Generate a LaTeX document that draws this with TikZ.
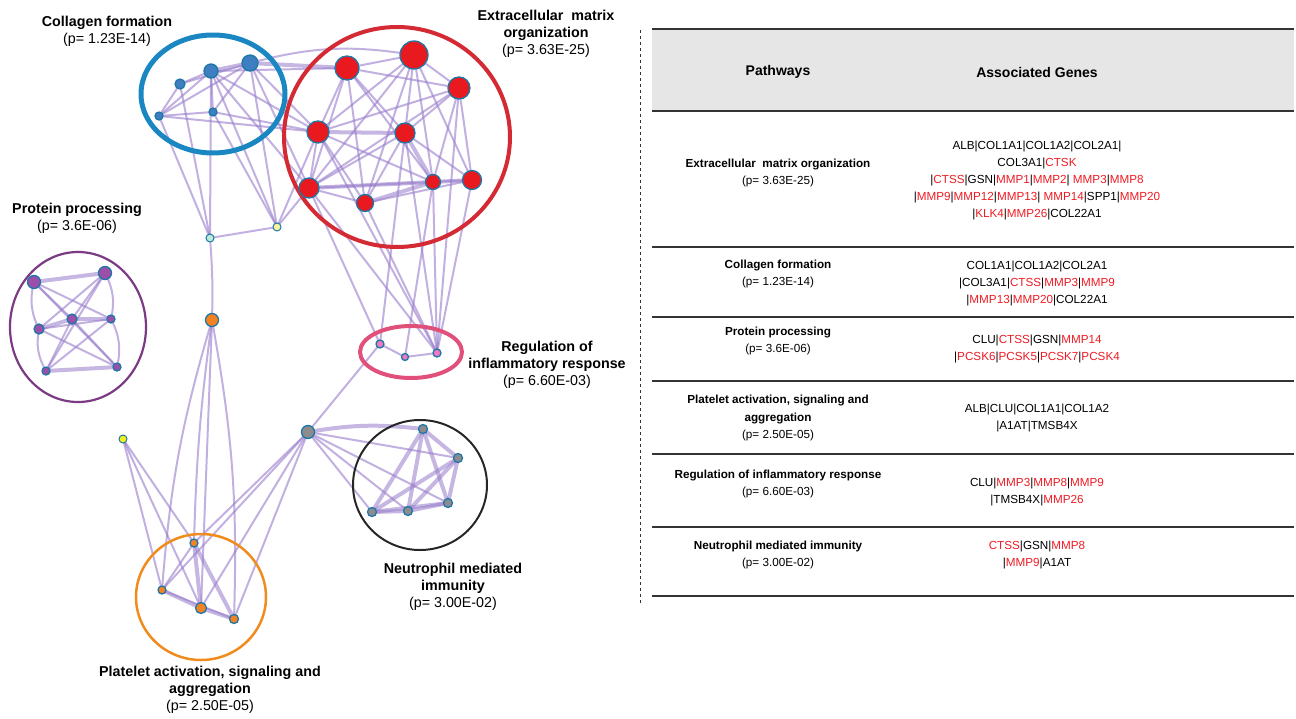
\documentclass[tikz,border=0pt]{standalone}
\usepackage{fontspec}
\setmainfont{Liberation Sans}
\usetikzlibrary{backgrounds}
\definecolor{edgec}{HTML}{977CCB}
\definecolor{nodeb}{HTML}{1F77A8}
\definecolor{colblue}{HTML}{1A87C2}
\definecolor{colnode}{HTML}{3D7FC1}
\definecolor{ecmring}{HTML}{D42A34}
\definecolor{ecmnode}{HTML}{E8191F}
\definecolor{protring}{HTML}{7B3A83}
\definecolor{protnode}{HTML}{9B4FA8}
\definecolor{pinkring}{HTML}{E0507A}
\definecolor{pinknode}{HTML}{F07AC0}
\definecolor{grnode}{HTML}{8C8C8C}
\definecolor{orring}{HTML}{F08C1E}
\definecolor{ornode}{HTML}{F58220}
\definecolor{ycyan}{HTML}{BDEBDC}
\definecolor{ypale}{HTML}{F6F4A0}
\definecolor{yyel}{HTML}{F5F21A}
\definecolor{genered}{HTML}{EE1C24}
\definecolor{rulec}{HTML}{333333}
\definecolor{headfill}{HTML}{E6E6E6}
\newcommand{\redg}[1]{\textcolor{genered}{#1}}
\tikzset{
  edge/.style={draw=edgec, line width=2pt, opacity=0.6},
  tedge/.style={edge, line width=4pt, opacity=0.55},
  gnode/.style={circle, draw=nodeb, line width=1.3pt, inner sep=0pt},
  lbl/.style={align=center, font=\fontsize{14.3}{17}\selectfont, inner sep=0pt},
  thd/.style={font=\fontsize{14}{17}\selectfont\bfseries, inner sep=0pt},
  tpw/.style={align=center, font=\fontsize{11.7}{17.5}\selectfont, inner sep=0pt},
  tgn/.style={align=center, font=\fontsize{11.7}{17}\selectfont, inner sep=0pt},
  trule/.style={draw=rulec, line width=1.6pt},
}
\begin{document}
\begin{tikzpicture}[x=1pt,y=-1pt]
\useasboundingbox (0,0) rectangle (1296,718);

% ---------- cluster outlines ----------
\draw[colblue, line width=5pt] (213,94) ellipse [x radius=72, y radius=59];
\draw[ecmring, line width=4pt] (397,137) ellipse [x radius=113, y radius=110];
\draw[protring, line width=2.2pt] (78,327) ellipse [x radius=68, y radius=75];
\draw[pinkring, line width=4pt] (411,352) ellipse [x radius=51, y radius=26];
\draw[black!85, line width=2pt] (420,485) ellipse [x radius=67, y radius=65];
\draw[orring, line width=2.5pt] (201,597) ellipse [x radius=65, y radius=63];

% ---------- nodes ----------
% collagen
\node[gnode, fill=colnode, minimum size=10pt] (c1) at (180,84) {};
\node[gnode, fill=colnode, minimum size=14pt] (c2) at (211,71) {};
\node[gnode, fill=colnode, minimum size=16pt] (c3) at (250,63) {};
\node[gnode, fill=colnode, minimum size=8pt] (c4) at (159,116) {};
\node[gnode, fill=colnode, minimum size=8pt] (c5) at (213,112) {};
% ECM
\node[gnode, fill=ecmnode, minimum size=24pt] (e1) at (347,68) {};
\node[gnode, fill=ecmnode, minimum size=28pt] (e2) at (414,55) {};
\node[gnode, fill=ecmnode, minimum size=22pt] (e3) at (459,88) {};
\node[gnode, fill=ecmnode, minimum size=22pt] (e4) at (318,132) {};
\node[gnode, fill=ecmnode, minimum size=20pt] (e5) at (405,133) {};
\node[gnode, fill=ecmnode, minimum size=20pt] (e6) at (309,188) {};
\node[gnode, fill=ecmnode, minimum size=17pt] (e7) at (365,203) {};
\node[gnode, fill=ecmnode, minimum size=15pt] (e8) at (433,182) {};
\node[gnode, fill=ecmnode, minimum size=19pt] (e9) at (472,180) {};
% small connectors
\node[gnode, fill=ycyan, minimum size=8pt, line width=1pt] (y1) at (210,238) {};
\node[gnode, fill=ypale, minimum size=8pt, line width=1pt] (y2) at (277,227) {};
\node[gnode, fill=yyel, minimum size=8pt, line width=1pt] (y3) at (123,439) {};
\node[gnode, fill=ornode, minimum size=13pt] (o0) at (212,320) {};
\node[gnode, fill=grnode, minimum size=13pt] (g0) at (308,432) {};
% protein
\node[gnode, fill=protnode, minimum size=13pt] (p1) at (34,282) {};
\node[gnode, fill=protnode, minimum size=13pt] (p2) at (105,273) {};
\node[gnode, fill=protnode, minimum size=10pt] (p3) at (39,329) {};
\node[gnode, fill=protnode, minimum size=10pt] (p4) at (72,319) {};
\node[gnode, fill=protnode, minimum size=8pt] (p5) at (111,319) {};
\node[gnode, fill=protnode, minimum size=8pt] (p6) at (46,371) {};
\node[gnode, fill=protnode, minimum size=8pt] (p7) at (117,367) {};
% pink
\node[gnode, fill=pinknode, minimum size=8pt] (r1) at (380,344) {};
\node[gnode, fill=pinknode, minimum size=7pt] (r2) at (405,357) {};
\node[gnode, fill=pinknode, minimum size=8pt] (r3) at (437,353) {};
% neutrophil
\node[gnode, fill=grnode, minimum size=9pt] (n1) at (423,429) {};
\node[gnode, fill=grnode, minimum size=9pt] (n2) at (458,458) {};
\node[gnode, fill=grnode, minimum size=9pt] (n3) at (448,503) {};
\node[gnode, fill=grnode, minimum size=9pt] (n4) at (408,511) {};
\node[gnode, fill=grnode, minimum size=9pt] (n5) at (372,512) {};
% platelet
\node[gnode, fill=ornode, minimum size=8pt] (q1) at (194,543) {};
\node[gnode, fill=ornode, minimum size=8pt] (q2) at (162,590) {};
\node[gnode, fill=ornode, minimum size=11pt] (q3) at (201,608) {};
\node[gnode, fill=ornode, minimum size=9pt] (q4) at (234,619) {};

% ---------- edges ----------
\begin{scope}[on background layer]
% collagen internal
\foreach \a/\b in {c1/c2,c1/c4,c4/c2,c4/c3,c4/c5,c2/c5,c1/c3,c3/c5}
  \draw[edge] (\a.center) -- (\b.center);
\draw[tedge] (c2.center) -- (c3.center);
% collagen to ECM and connectors
\draw[tedge] (c3.center) -- (e1.center);
\draw[edge] (c3.center) to[bend left=12] (e2.center);
\foreach \a/\b in {c2/e1,c3/e4,c2/e4,c4/e4,c5/e4,c3/e6,c2/e6,c1/y1,c2/y1,c4/y1,c2/y2,c3/y2,c5/y2,y1/y2,e4/y2,e6/y2}
  \draw[edge] (\a.center) -- (\b.center);
\draw[edge] (y1.center) to[bend left=3] (o0.center);
% ECM internal
\foreach \a/\b in {e1/e2,e1/e3,e1/e4,e1/e5,e1/e6,e1/e7,e1/e8,e2/e3,e2/e4,e2/e5,e2/e6,e2/e7,e2/e8,e2/e9,e3/e4,e3/e5,e3/e6,e3/e8,e3/e9,e4/e6,e4/e7,e4/e8,e5/e6,e5/e7,e5/e9,e6/e7,e6/e9,e7/e9}
  \draw[edge] (\a.center) -- (\b.center);
\foreach \a/\b in {e4/e5,e5/e8,e6/e8,e7/e8,e8/e9}
  \draw[tedge] (\a.center) -- (\b.center);
% ECM to pink
\foreach \a/\b in {e6/r1,e4/r3,e6/r3,e7/r3,e5/r3,e8/r3,e9/r3,e3/r3,e5/r1,e8/r2}
  \draw[edge] (\a.center) -- (\b.center);
\foreach \a/\b in {r1/r2,r2/r3,r1/g0}
  \draw[edge] (\a.center) -- (\b.center);
% hub
\draw[tedge] (g0.center) to[bend left=8] (n1.center);
\foreach \a/\b in {g0/n2,g0/n3,g0/n4,g0/n5,g0/q1,g0/q2,g0/q3,g0/q4}
  \draw[edge] (\a.center) -- (\b.center);
% neutrophil internal
\foreach \a/\b in {n1/n2,n1/n3,n1/n4,n1/n5,n2/n3,n2/n4,n2/n5,n3/n5}
  \draw[tedge] (\a.center) -- (\b.center);
\draw[tedge] (n4.center) -- (n5.center);
\draw[tedge] (n3.center) -- (n4.center);
% orange hub / yellow
\draw[edge] (o0.center) to[bend right=6] (q2.center);
\draw[edge] (o0.center) to[bend right=3] (q1.center);
\draw[edge] (o0.center) -- (q3.center);
\draw[edge] (o0.center) to[bend left=6] (q4.center);
\foreach \a/\b in {y3/q1,y3/q2,y3/q3}
  \draw[edge] (\a.center) -- (\b.center);
% platelet internal
\foreach \a/\b in {q1/q2,q2/q4}
  \draw[edge] (\a.center) -- (\b.center);
\foreach \a/\b in {q1/q3,q1/q4,q2/q3,q3/q4}
  \draw[tedge] (\a.center) -- (\b.center);
% protein internal
\foreach \a/\b in {p1/p2,p6/p7,p3/p4,p4/p5}
  \draw[tedge] (\a.center) -- (\b.center);
\draw[edge] (p1.center) to[bend right=20] (p3.center);
\draw[edge] (p2.center) to[bend left=20] (p5.center);
\draw[edge] (p3.center) to[bend right=20] (p6.center);
\draw[edge] (p5.center) to[bend left=20] (p7.center);
\foreach \a/\b in {p1/p4,p1/p5,p1/p7,p2/p4,p2/p3,p2/p6,p3/p5,p3/p7,p4/p6,p4/p7,p5/p6}
  \draw[edge] (\a.center) -- (\b.center);
\end{scope}

% ---------- cluster labels ----------
\node[lbl] (lcol) at (107,31) {\textbf{Collagen formation}\\(p= 1.23E-14)};
\node[lbl] (lecm) at (546,34) {\textbf{Extracellular~~matrix}\\\textbf{organization}\\(p= 3.63E-25)};
\node[lbl] (lpro) at (77,218) {\textbf{Protein processing}\\(p= 3.6E-06)};
\node[lbl] (linf) at (547,365) {\textbf{Regulation of}\\\textbf{inflammatory response}\\(p= 6.60E-03)};
\node[lbl] (lneu) at (453,587) {\textbf{Neutrophil mediated}\\\textbf{immunity}\\(p= 3.00E-02)};
\node[lbl] (lpla) at (210,690) {\textbf{Platelet activation, signaling and}\\\textbf{aggregation}\\(p= 2.50E-05)};

% ---------- separator ----------
\draw[black!80, line width=0.8pt, dashed] (640,30) -- (640,604);

% ---------- table ----------
\fill[headfill] (652,29) rectangle (1294,111);
\draw[trule] (652,29) -- (1294,29);
\draw[trule] (652,111) -- (1294,111);
\draw[trule] (652,247) -- (1294,247);
\draw[trule] (652,317) -- (1294,317);
\draw[trule] (652,381) -- (1294,381);
\draw[trule] (652,454) -- (1294,454);
\draw[trule] (652,527) -- (1294,527);
\draw[trule] (652,596) -- (1294,596);

\node[thd] (hpw) at (778,72) {Pathways};
\node[thd] (hgn) at (1037,72) {Associated Genes};

\node[tpw] (pw1) at (778,173) {\textbf{Extracellular~~matrix organization}\\(p= 3.63E-25)};
\node[tgn] (gn1) at (1037,180) {ALB|COL1A1|COL1A2|COL2A1|\\COL3A1|\redg{CTSK}\\|\redg{CTSS}|GSN|\redg{MMP1}|\redg{MMP2}| \redg{MMP3}|\redg{MMP8}\\|\redg{MMP9}|\redg{MMP12}|\redg{MMP13}| \redg{MMP14}|SPP1|\redg{MMP20}\\|\redg{KLK4}|\redg{MMP26}|COL22A1};

\node[tpw] (pw2) at (778,274) {\textbf{Collagen formation}\\(p= 1.23E-14)};
\node[tgn] (gn2) at (1037,283) {COL1A1|COL1A2|COL2A1\\|COL3A1|\redg{CTSS}|\redg{MMP3}|\redg{MMP9}\\|\redg{MMP13}|\redg{MMP20}|COL22A1};

\node[tpw] (pw3) at (778,341) {\textbf{Protein processing}\\(p= 3.6E-06)};
\node[tgn] (gn3) at (1037,349) {CLU|\redg{CTSS}|GSN|\redg{MMP14}\\|\redg{PCSK6}|\redg{PCSK5}|\redg{PCSK7}|\redg{PCSK4}};

\node[tpw] (pw4) at (778,418) {\textbf{Platelet activation, signaling and}\\\textbf{aggregation}\\(p= 2.50E-05)};
\node[tgn] (gn4) at (1037,418) {ALB|CLU|COL1A1|COL1A2\\|A1AT|TMSB4X};

\node[tpw] (pw5) at (778,484) {\textbf{Regulation of inflammatory response}\\(p= 6.60E-03)};
\node[tgn] (gn5) at (1037,492) {CLU|\redg{MMP3}|\redg{MMP8}|\redg{MMP9}\\|TMSB4X|\redg{MMP26}};

\node[tpw] (pw6) at (778,555) {\textbf{Neutrophil mediated immunity}\\(p= 3.00E-02)};
\node[tgn] (gn6) at (1037,555) {\redg{CTSS}|GSN|\redg{MMP8}\\|\redg{MMP9}|A1AT};
\end{tikzpicture}
\end{document}
